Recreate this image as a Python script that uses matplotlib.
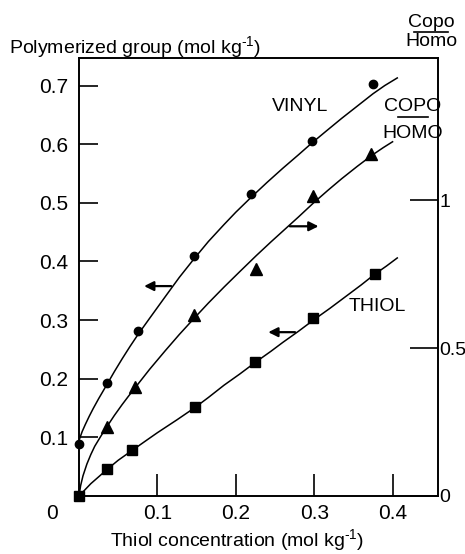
import matplotlib
matplotlib.use("Agg")
import matplotlib.pyplot as plt
from matplotlib.lines import Line2D

plt.rcParams['font.family'] = ['Liberation Sans', 'DejaVu Sans']
plt.rcParams['mathtext.fontset'] = 'custom'
plt.rcParams['mathtext.rm'] = 'Liberation Sans'
plt.rcParams['mathtext.default'] = 'regular'

# measured points
vinyl_x = [0.0, 0.0355, 0.075, 0.1466, 0.220, 0.297, 0.375]
vinyl_y = [0.088, 0.193, 0.282, 0.409, 0.515, 0.606, 0.702]
copo_x = [0.036, 0.071, 0.147, 0.226, 0.299, 0.373]
copo_y = [0.234, 0.369, 0.611, 0.766, 1.013, 1.155]
thiol_x = [0.0, 0.0355, 0.068, 0.148, 0.225, 0.299, 0.377]
thiol_y = [0.0, 0.046, 0.078, 0.151, 0.229, 0.303, 0.379]

# fitted curves
vinyl_fit_x = [0.0, 0.004, 0.008, 0.013, 0.018, 0.025, 0.0355, 0.045, 0.055, 0.065, 0.075, 0.09, 0.11, 0.128,
               0.147, 0.165, 0.185, 0.20, 0.22, 0.24, 0.26, 0.28, 0.297, 0.315, 0.335, 0.355, 0.375, 0.39, 0.406]
vinyl_fit_y = [0.095, 0.110, 0.122, 0.136, 0.149, 0.166, 0.190, 0.212, 0.234, 0.255, 0.275, 0.303, 0.340, 0.373,
               0.405, 0.434, 0.463, 0.484, 0.510, 0.535, 0.559, 0.582, 0.602, 0.622, 0.644, 0.665, 0.686, 0.700, 0.713]
copo_fit_x = [0.0, 0.002, 0.005, 0.01, 0.015, 0.02, 0.028, 0.036, 0.045, 0.055, 0.063, 0.071, 0.09, 0.11, 0.128,
              0.147, 0.165, 0.185, 0.205, 0.226, 0.245, 0.26, 0.28, 0.299, 0.318, 0.335, 0.355, 0.373, 0.388, 0.40]
copo_fit_y = [0.0, 0.035, 0.068, 0.108, 0.140, 0.168, 0.203, 0.236, 0.272, 0.309, 0.337, 0.364, 0.428, 0.491, 0.546,
              0.601, 0.652, 0.706, 0.758, 0.812, 0.859, 0.895, 0.943, 0.990, 1.034, 1.072, 1.114, 1.150, 1.177, 1.197]
thiol_fit_x = [0.0, 0.015, 0.0355, 0.05, 0.068, 0.085, 0.10, 0.125, 0.148, 0.165, 0.185, 0.205, 0.225, 0.245,
               0.26, 0.28, 0.299, 0.32, 0.34, 0.36, 0.377, 0.392, 0.406]
thiol_fit_y = [0.0, 0.021, 0.045, 0.061, 0.078, 0.094, 0.108, 0.130, 0.151, 0.168, 0.189, 0.208, 0.228, 0.247,
               0.262, 0.281, 0.300, 0.320, 0.340, 0.360, 0.378, 0.392, 0.406]

fig = plt.figure(figsize=(4.65, 5.54), dpi=100)
ax = fig.add_axes([0.170, 0.1047, 0.772, 0.7906])
ax2 = ax.twinx()

ax.set_xlim(0, 0.458)
ax.set_ylim(0, 0.747)
ax2.set_ylim(0, 1.48)

lw = 1.1
ax.plot(vinyl_fit_x, vinyl_fit_y, color='black', lw=lw)
ax.plot(thiol_fit_x, thiol_fit_y, color='black', lw=lw)
ax2.plot(copo_fit_x, copo_fit_y, color='black', lw=lw)

ax.plot(vinyl_x, vinyl_y, 'o', color='black', ms=6, clip_on=False, zorder=5)
ax.plot(thiol_x, thiol_y, 's', color='black', ms=7, clip_on=False, zorder=5)
ax2.plot(copo_x, copo_y, '^', color='black', ms=8, clip_on=False, zorder=5)

for a in (ax, ax2):
    for s in a.spines.values():
        s.set_linewidth(1.2)

ax.set_xticks([0.1, 0.2, 0.3, 0.4])
ax.set_xticklabels(['0.1', '0.2', '0.3', '0.4'])
ax.set_yticks([0.1, 0.2, 0.3, 0.4, 0.5, 0.6, 0.7])
ax.set_yticklabels(['0.1', '0.2', '0.3', '0.4', '0.5', '0.6', '0.7'])
ax.tick_params(axis='x', direction='in', length=16, width=1.2, labelsize=15, pad=6)
ax.tick_params(axis='y', direction='in', length=14, width=1.2, labelsize=15, pad=8)
ax2.set_yticks([0, 0.5, 1])
ax2.set_yticklabels(['0', '0.5', '1'])
ax2.tick_params(axis='y', direction='in', length=20, width=1.2, labelsize=14, pad=1)

fig.text(0.112, 0.074, '0', fontsize=15, ha='center', va='center')

# arrows
arr = dict(arrowstyle='-|>', color='black', lw=1.6, mutation_scale=14, shrinkA=0, shrinkB=0)
ax.annotate('', xy=(0.083, 0.358), xytext=(0.1175, 0.358), arrowprops=arr)
ax.annotate('', xy=(0.3055, 0.460), xytext=(0.269, 0.460), arrowprops=arr)
ax.annotate('', xy=(0.2414, 0.2794), xytext=(0.2756, 0.2794), arrowprops=arr)

ax.text(0.282, 0.665, 'VINYL', fontsize=14, ha='center', va='center')
ax.text(0.381, 0.324, 'THIOL', fontsize=14, ha='center', va='center')
ax.text(0.930, 0.878, 'COPO', fontsize=14, ha='center', va='baseline', transform=ax.transAxes)
ax.text(0.930, 0.818, 'HOMO', fontsize=14, ha='center', va='baseline', transform=ax.transAxes)
ax.add_line(Line2D([0.889, 0.972], [0.865, 0.865], color='black', lw=1.2, transform=ax.transAxes))

fig.text(0.927, 0.952, 'Copo', fontsize=14, ha='center', va='baseline')
fig.text(0.927, 0.917, 'Homo', fontsize=14, ha='center', va='baseline')
fig.add_artist(Line2D([0.890, 0.963], [0.942, 0.942], color='black', lw=1.2))

fig.text(0.02, 0.915, 'Polymerized group (mol kg$^{\\text{-1}}$)', fontsize=14, ha='left', va='center')
fig.text(0.51, 0.025, 'Thiol concentration (mol kg$^{\\text{-1}}$)', fontsize=14, ha='center', va='center')

fig.savefig('out.png', dpi=100)
